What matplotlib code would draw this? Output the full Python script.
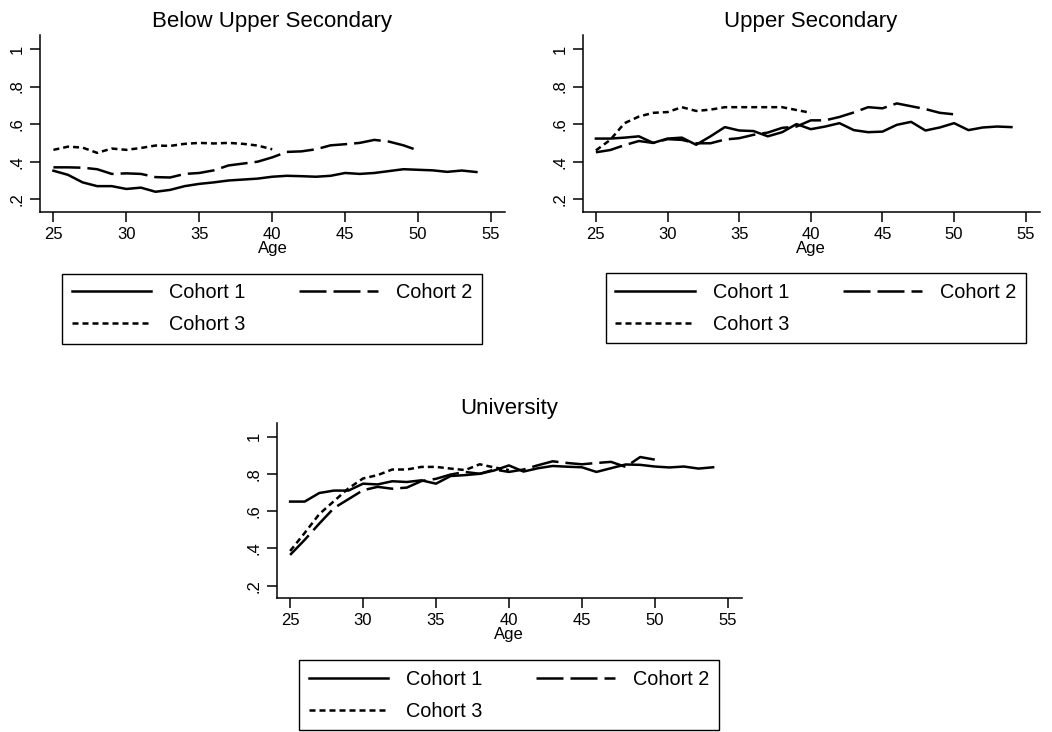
import numpy as np
import matplotlib
matplotlib.use("Agg")
import matplotlib.pyplot as plt
from matplotlib.lines import Line2D

plt.rcParams['font.family'] = ['Liberation Sans', 'DejaVu Sans']

# ages for each cohort
age_c1 = list(range(25, 55))
age_c2 = list(range(25, 51))
age_c3 = list(range(25, 41))

titles = ["Below Upper Secondary", "Upper Secondary", "University"]
cohort_labels = ["Cohort 1", "Cohort 2", "Cohort 3"]
xticks = [25, 30, 35, 40, 45, 50, 55]
yticks = [0.2, 0.4, 0.6, 0.8, 1.0]
ytick_labels = [".2", ".4", ".6", ".8", "1"]

# Below upper secondary
below_c1 = [0.352, 0.33, 0.29, 0.27, 0.27, 0.255, 0.262, 0.24, 0.25, 0.27,
            0.282, 0.29, 0.30, 0.305, 0.31, 0.32, 0.325, 0.323, 0.32, 0.325,
            0.34, 0.335, 0.34, 0.35, 0.36, 0.357, 0.354, 0.346, 0.353, 0.345]
below_c2 = [0.37, 0.37, 0.368, 0.36, 0.335, 0.338, 0.335, 0.318, 0.316, 0.335,
            0.34, 0.354, 0.38, 0.39, 0.40, 0.423, 0.452, 0.455, 0.466, 0.487,
            0.493, 0.50, 0.516, 0.507, 0.487, 0.46]
below_c3 = [0.463, 0.48, 0.475, 0.447, 0.47, 0.463, 0.473, 0.486, 0.484, 0.495,
            0.50, 0.497, 0.50, 0.495, 0.486, 0.466]

# Upper secondary
upper_c1 = [0.523, 0.523, 0.528, 0.535, 0.50, 0.523, 0.528, 0.49, 0.535, 0.584,
            0.566, 0.563, 0.535, 0.557, 0.60, 0.573, 0.587, 0.605, 0.568, 0.557,
            0.56, 0.596, 0.612, 0.566, 0.582, 0.605, 0.568, 0.582, 0.587, 0.584]
upper_c2 = [0.45, 0.462, 0.488, 0.51, 0.50, 0.52, 0.516, 0.498, 0.498, 0.518,
            0.525, 0.543, 0.555, 0.58, 0.587, 0.62, 0.62, 0.638, 0.662, 0.69,
            0.684, 0.71, 0.695, 0.68, 0.66, 0.652]
upper_c3 = [0.46, 0.516, 0.605, 0.64, 0.66, 0.664, 0.69, 0.67, 0.677, 0.69,
            0.69, 0.69, 0.69, 0.69, 0.675, 0.66]

# University
univ_c1 = [0.651, 0.651, 0.697, 0.71, 0.71, 0.747, 0.743, 0.76, 0.756, 0.765,
           0.747, 0.788, 0.793, 0.80, 0.818, 0.845, 0.812, 0.83, 0.842, 0.838,
           0.835, 0.81, 0.83, 0.85, 0.848, 0.839, 0.834, 0.839, 0.828, 0.835]
univ_c2 = [0.365, 0.446, 0.533, 0.616, 0.664, 0.712, 0.73, 0.72, 0.726, 0.761,
           0.773, 0.796, 0.81, 0.80, 0.823, 0.81, 0.823, 0.846, 0.867, 0.858,
           0.851, 0.858, 0.864, 0.837, 0.89, 0.876]
univ_c3 = [0.386, 0.483, 0.584, 0.653, 0.722, 0.775, 0.793, 0.823, 0.823, 0.837,
           0.837, 0.828, 0.82, 0.851, 0.834, 0.82]

panels = [
    (titles[0], below_c1, below_c2, below_c3),
    (titles[1], upper_c1, upper_c2, upper_c3),
    (titles[2], univ_c1, univ_c2, univ_c3),
]

W, H = 1052, 732


def box(l, t, r, b):
    # pixel box -> figure fraction rect
    return [l / W, 1 - b / H, (r - l) / W, (b - t) / H]


ax_boxes = [box(40, 35, 505, 211.7),
            box(582.7, 35, 1039.5, 211.7),
            box(276.7, 422.7, 741.7, 598)]
leg_boxes = [box(62, 273.5, 482, 345),
             box(605.7, 273, 1025.7, 344),
             box(299, 660, 719, 731)]

lw = 1.8
styles = [dict(linestyle='-'),
          dict(linestyle=(0, (10.8, 2.8))),
          dict(linestyle=(0, (2.4, 1.6)))]

fig = plt.figure(figsize=(W / 100, H / 100), dpi=100, facecolor='white')

for (title, c1, c2, c3), rect, lrect in zip(panels, ax_boxes, leg_boxes):
    ax = fig.add_axes(rect)
    ax.plot(age_c1, c1, color='black', lw=lw, **styles[0])
    ax.plot(age_c2, c2, color='black', lw=lw, **styles[1])
    ax.plot(age_c3, c3, color='black', lw=lw, **styles[2])

    ax.set_xlim(24.08, 55.96)
    ax.set_ylim(0.134, 1.074)
    ax.set_xticks(xticks)
    ax.set_yticks(yticks)
    ax.set_yticklabels(ytick_labels, rotation=90, va='center')
    ax.tick_params(axis='both', labelsize=12, length=7, width=1.1, pad=4)
    ax.spines['top'].set_visible(False)
    ax.spines['right'].set_visible(False)
    ax.spines['left'].set_linewidth(1.1)
    ax.spines['bottom'].set_linewidth(1.1)
    ax.set_xlabel("Age", fontsize=12, labelpad=-1)
    ax.set_title(title, fontsize=16, pad=6)

    handles = [Line2D([], [], color='black', lw=lw, **s) for s in styles]
    # legend fills column-wise, so order as c1, c3 | c2 to read row-wise
    order = [0, 2, 1]
    fig.legend([handles[i] for i in order], [cohort_labels[i] for i in order],
               ncol=2, loc='upper left',
               bbox_to_anchor=(lrect[0], lrect[1] + lrect[3], lrect[2], 0.0),
               mode='expand', fontsize=14.3, frameon=True, fancybox=False,
               edgecolor='black', framealpha=1, handlelength=4.0,
               handletextpad=0.9, labelspacing=0.66, borderpad=0.48,
               borderaxespad=0)

fig.savefig("out.png", dpi=100, facecolor='white')
